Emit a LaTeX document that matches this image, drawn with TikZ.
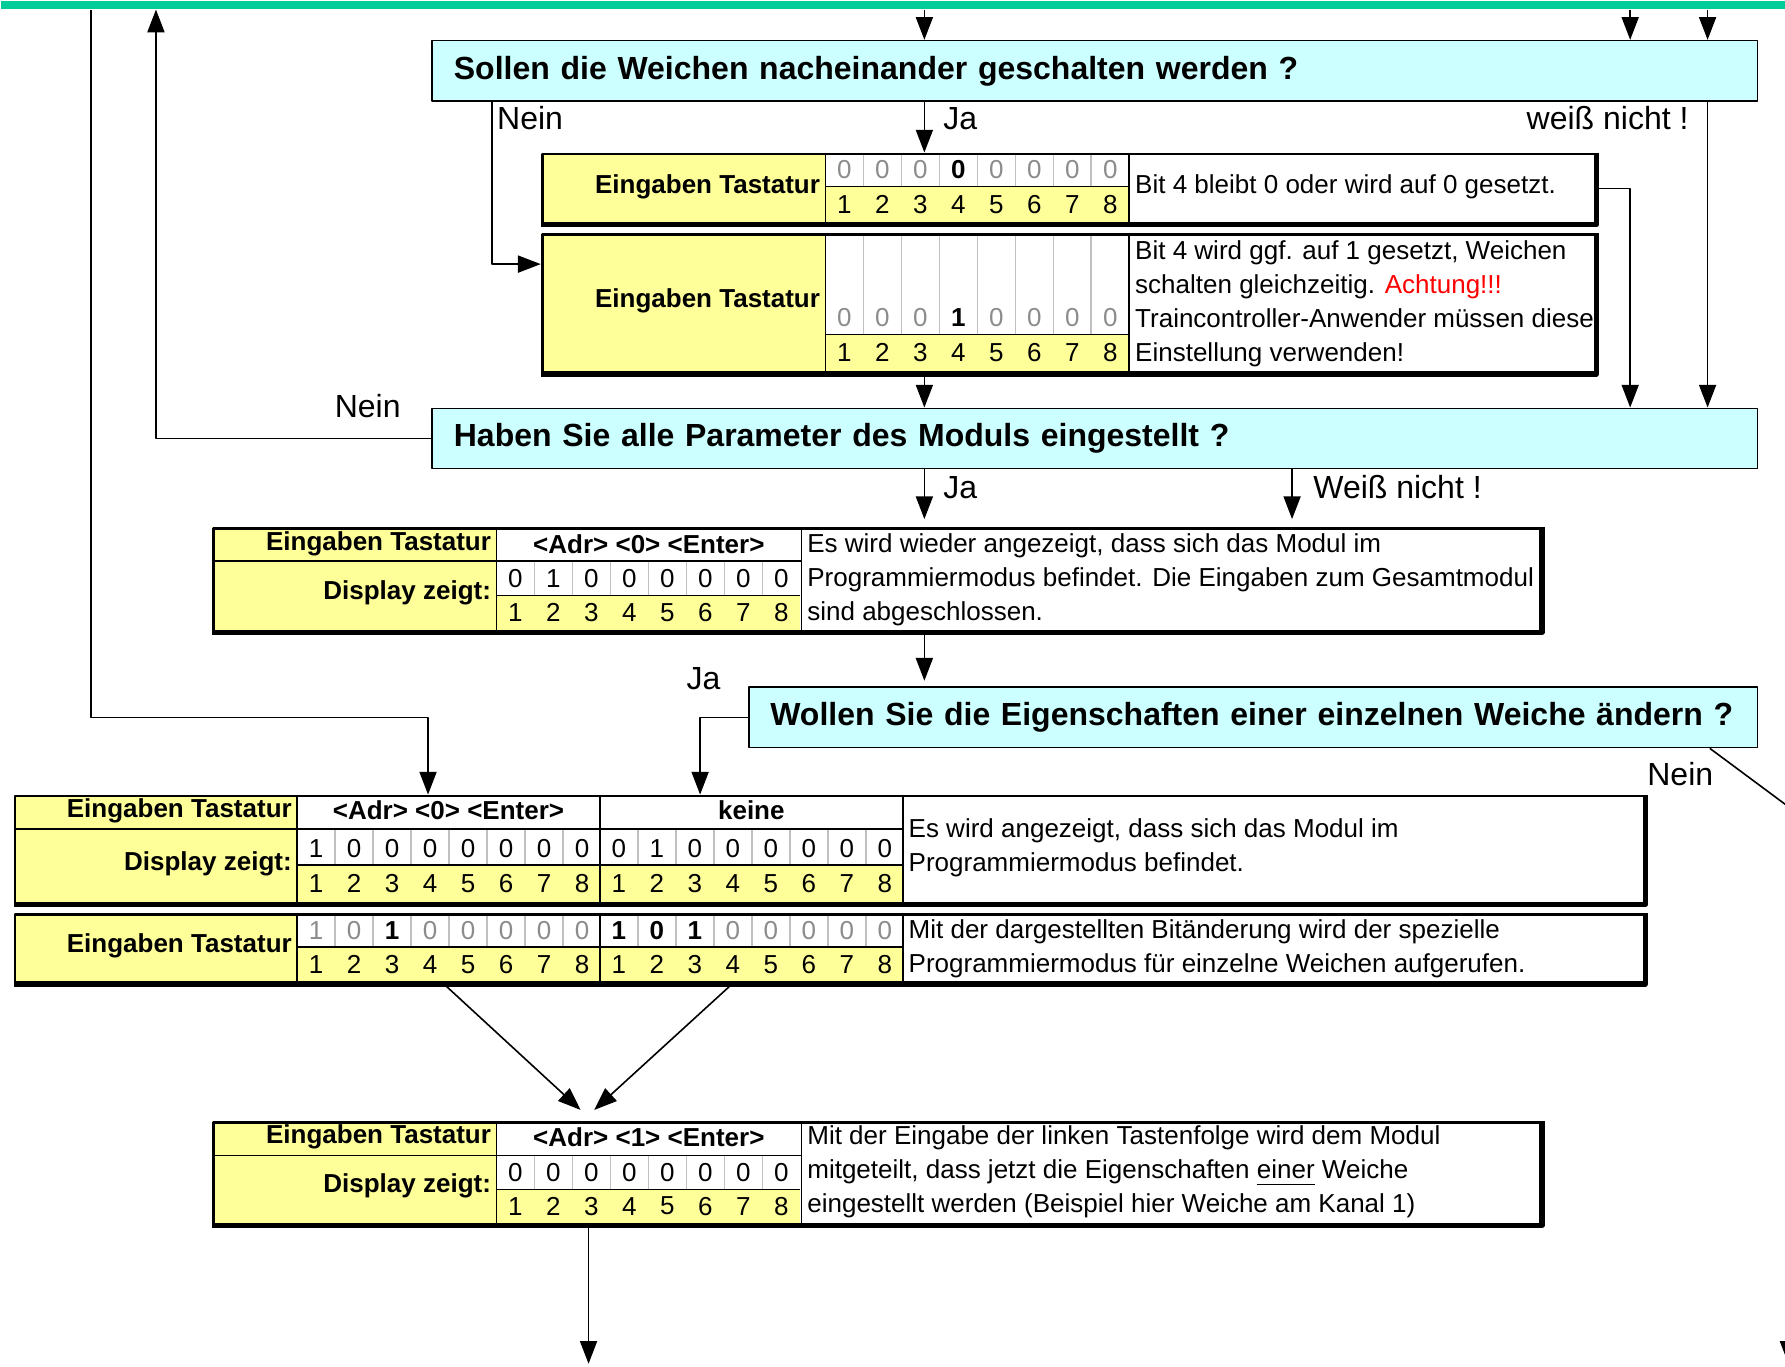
\documentclass[tikz,border=0pt]{standalone}
\usepackage{fontspec}
\setmainfont{Liberation Sans}
\usetikzlibrary{arrows.meta}

\definecolor{gruen}{RGB}{0,204,153}
\definecolor{tuerkis}{RGB}{204,255,255}
\definecolor{gelb}{RGB}{255,255,153}
\definecolor{hellgrau}{RGB}{192,192,192}
\definecolor{ziffergrau}{RGB}{140,140,140}

\newcommand\klein{\fontsize{6.5}{8.5}\selectfont}
\newcommand\gross{\fontsize{8}{9.6}\selectfont}

\tikzset{
  pfeil/.style={-{Triangle[length=2mm,width=1.5mm]}},
  frage/.style={draw, fill=tuerkis, anchor=north west, inner xsep=1.9mm, inner ysep=0pt,
    minimum height=5.3mm, align=left, font=\gross\bfseries},
  rahmen/.style={draw, line width=0.7pt, anchor=north west, inner sep=0pt},
  lab/.style={anchor=east, inner sep=0pt, font=\klein\bfseries},
  beschr/.style={anchor=west, align=left, inner xsep=0.45mm, inner ysep=0pt, yshift=-0.25mm, font=\klein},
  marke/.style={inner sep=0pt, font=\gross},
  bg/.style={inner sep=0pt, font=\klein, text=ziffergrau},
  bk/.style={inner sep=0pt, font=\klein\bfseries},
  bn/.style={inner sep=0pt, font=\klein},
}

% #1 name, #2 x links, #3 y oben, #4 y trenn, #5 y unten, #6 stil/ziffer
\newcommand\bitgruppe[6]{%
  \fill[gelb] (#2,#4) rectangle (#2+267,#5);
  \foreach \s/\z [count=\i from 0] in {#6}{
    \ifnum\i>0 \draw[hellgrau] (#2+\i*33.375,#3) -- (#2+\i*33.375,#4);\fi
    \pgfmathtruncatemacro\nr{\i+1}
    \node[\s] (#1-\nr) at (#2+\i*33.375+16.69,#4-15) {\z};
    \node[bn] (#1-n\nr) at (#2+\i*33.375+16.69,{(#4+#5)/2}) {\nr};
  }
  \draw (#2,#4) -- (#2+267,#4);
}

\begin{document}
\begin{tikzpicture}[x=0.1mm, y=-0.1mm, line width=0.4pt, line join=round]
\useasboundingbox (0,0) rectangle (1568,1200);
\clip (0,0) rectangle (1568,1200);
\fill[white] (0,0) rectangle (1568,1200);
\node[fill=gruen, anchor=north west, minimum width=156.8mm, minimum height=0.7mm, inner sep=0pt] (balken) at (0,0) {};

% Fragen
\node[frage, text width=112.6mm] (f1) at (379,35) {Sollen die Weichen nacheinander geschalten werden ?};
\node[frage, text width=112.6mm] (f2) at (379,358) {Haben Sie alle Parameter des Moduls eingestellt ?};
\node[frage, text width=84.8mm] (f3) at (657,603) {Wollen Sie die Eigenschaften einer einzelnen Weiche ändern ?};

% Tabelle 1
\fill[gelb] (475,134) rectangle (725,195);
\bitgruppe{b1}{725}{134}{164}{195}{bg/0,bg/0,bg/0,bk/0,bg/0,bg/0,bg/0,bg/0}
\draw (725,134) -- (725,195) (992,134) -- (992,195);
\node[lab] (l1) at (721,164) {Eingaben Tastatur};
\node[beschr] (d1) at (992,162) {Bit 4 bleibt 0 oder wird auf 0 gesetzt.};
\node[rahmen, minimum width=92.5mm, minimum height=6.1mm] (t1) at (475,134) {};

% Tabelle 2
\fill[gelb] (475,205) rectangle (725,326);
\bitgruppe{b2}{725}{205}{294}{326}{bg/0,bg/0,bg/0,bk/1,bg/0,bg/0,bg/0,bg/0}
\draw (725,205) -- (725,326) (992,205) -- (992,326);
\node[lab] (l2) at (721,264) {Eingaben Tastatur};
\node[beschr] (d2) at (992,264) {Bit 4 wird ggf. auf 1 gesetzt, Weichen\\schalten gleichzeitig. \textcolor{red}{Achtung!!!}\\Traincontroller-Anwender müssen diese\\Einstellung verwenden!};
\node[rahmen, minimum width=92.5mm, minimum height=12.1mm] (t2) at (475,205) {};

% Tabelle 3
\fill[gelb] (186,463) rectangle (436,553);
\bitgruppe{b3}{436}{493}{523}{553}{bn/0,bn/1,bn/0,bn/0,bn/0,bn/0,bn/0,bn/0}
\draw (186,493) -- (704,493) (436,463) -- (436,553) (704,463) -- (704,553);
\node[lab] (l3a) at (432,478) {Eingaben Tastatur};
\node[lab] (l3b) at (432,521) {Display zeigt:};
\node[bk] (e3) at (570,478) {<Adr> <0> <Enter>};
\node[beschr] (d3) at (704,507) {Es wird wieder angezeigt, dass sich das Modul im\\Programmiermodus befindet. Die Eingaben zum Gesamtmodul\\sind abgeschlossen.};
\node[rahmen, minimum width=116.6mm, minimum height=9mm] (t3) at (186,463) {};

% Tabelle 4
\fill[gelb] (12,698) rectangle (261,792);
\bitgruppe{b4a}{261}{728}{760}{792}{bn/1,bn/0,bn/0,bn/0,bn/0,bn/0,bn/0,bn/0}
\bitgruppe{b4b}{527}{728}{760}{792}{bn/0,bn/1,bn/0,bn/0,bn/0,bn/0,bn/0,bn/0}
\draw (12,728) -- (793,728) (261,698) -- (261,792) (527,698) -- (527,792) (793,698) -- (793,792);
\node[lab] (l4a) at (257,712) {Eingaben Tastatur};
\node[lab] (l4b) at (257,759) {Display zeigt:};
\node[bk] (e4a) at (394,712) {<Adr> <0> <Enter>};
\node[bk] (e4b) at (660,712) {keine};
\node[beschr] (d4) at (793,742) {Es wird angezeigt, dass sich das Modul im\\Programmiermodus befindet.};
\node[rahmen, minimum width=143.1mm, minimum height=9.4mm] (t4) at (12,698) {};

% Tabelle 5
\fill[gelb] (12,802) rectangle (261,862);
\bitgruppe{b5a}{261}{802}{832}{862}{bg/1,bg/0,bk/1,bg/0,bg/0,bg/0,bg/0,bg/0}
\bitgruppe{b5b}{527}{802}{832}{862}{bk/1,bk/0,bk/1,bg/0,bg/0,bg/0,bg/0,bg/0}
\draw (261,802) -- (261,862) (527,802) -- (527,862) (793,802) -- (793,862);
\node[lab] (l5) at (257,831) {Eingaben Tastatur};
\node[beschr] (d5) at (793,831) {Mit der dargestellten Bitänderung wird der spezielle\\Programmiermodus für einzelne Weichen aufgerufen.};
\node[rahmen, minimum width=143.1mm, minimum height=6mm] (t5) at (12,802) {};

% Tabelle 6
\fill[gelb] (186,985) rectangle (436,1074);
\bitgruppe{b6}{436}{1015}{1045}{1074}{bn/0,bn/0,bn/0,bn/0,bn/0,bn/0,bn/0,bn/0}
\draw (186,1015) -- (704,1015) (436,985) -- (436,1074) (704,985) -- (704,1074);
\node[lab] (l6a) at (432,999) {Eingaben Tastatur};
\node[lab] (l6b) at (432,1042) {Display zeigt:};
\node[bk] (e6) at (570,999) {<Adr> <1> <Enter>};
\node[beschr] (d6) at (704,1027) {Mit der Eingabe der linken Tastenfolge wird dem Modul\\mitgeteilt, dass jetzt die Eigenschaften \underline{einer} Weiche\\eingestellt werden (Beispiel hier Weiche am Kanal 1)};
\node[rahmen, minimum width=116.6mm, minimum height=8.9mm] (t6) at (186,985) {};

\foreach \t in {t1,t2,t3,t4,t5,t6}
  \draw[line width=1.3pt] (\t.north east) -- (\t.south east) -- (\t.south west);

% Spalten der Verbinder
\path
(80,0) coordinate (sa) (137,0) coordinate (sb) (376,0) coordinate (sc)
(432,0) coordinate (sn) (517,0) coordinate (se) (615,0) coordinate (sd)
(812,0) coordinate (sj) (1135,0) coordinate (sw) (1432,0) coordinate (s1)
(1500,0) coordinate (s2) (1502,0) coordinate (sf) (390,0) coordinate (sg)
(643,0) coordinate (sh);
\path
(510,975) coordinate (z1) (522,975) coordinate (z2) (517,1198) coordinate (ende1)
(1620,745) coordinate (aus1) (1571,1140) coordinate (aus2) (1571,1198) coordinate (ende2);

\draw[pfeil] (balken.south -| sj) -- (f1.north -| sj);
\draw[pfeil] (balken.south -| s1) -- (f1.north -| s1);
\draw[pfeil] (balken.south -| s2) -- (f1.north -| s2);
\draw[pfeil] (f1.south -| sj) -- (t1.north -| sj);
\draw[pfeil] (f1.south -| sn) |- ([yshift=-2.7mm]t2.north west);
\draw[pfeil] (f1.south -| s2) -- (f2.north -| s2);
\draw[pfeil] (t1.east) -| (f2.north -| s1);
\draw[pfeil] (t2.south -| sj) -- (f2.north -| sj);
\draw[pfeil] (f2.west) -| (balken.south -| sb);
\draw[pfeil, shorten >=0.7mm] (f2.south -| sj) -- (t3.north -| sj);
\draw[pfeil, shorten >=0.7mm] (f2.south -| sw) -- (t3.north -| sw);
\draw[pfeil, shorten >=0.5mm] (t3.south -| sj) -- (f3.north -| sj);
\draw[pfeil] (f3.west) -| (t4.north -| sd);
\draw[pfeil] (balken.south -| sa) |- (sc |- f3.west) -- (t4.north -| sc);
\draw (f3.south -| sf) -- (aus1);
\draw[pfeil] (t5.south -| sg) -- (z1);
\draw[pfeil] (t5.south -| sh) -- (z2);
\draw[pfeil] (t6.south -| se) -- (ende1);
\draw[pfeil] (aus2) -- (ende2);

% Beschriftung der Verbinder
\node[marke, anchor=west] (n1) at (436,104) {Nein};
\node[marke, anchor=west] (j1) at (828,104) {Ja};
\node[marke, anchor=east] (w1) at (1484,104) {weiß nicht !};
\node[marke] (n2) at (323,357) {Nein};
\node[marke, anchor=west] (j2) at (828,428) {Ja};
\node[marke, anchor=west] (w2) at (1153,428) {Weiß nicht !};
\node[marke] (j3) at (618,596) {Ja};
\node[marke] (n3) at (1476,680) {Nein};
\end{tikzpicture}
\end{document}
